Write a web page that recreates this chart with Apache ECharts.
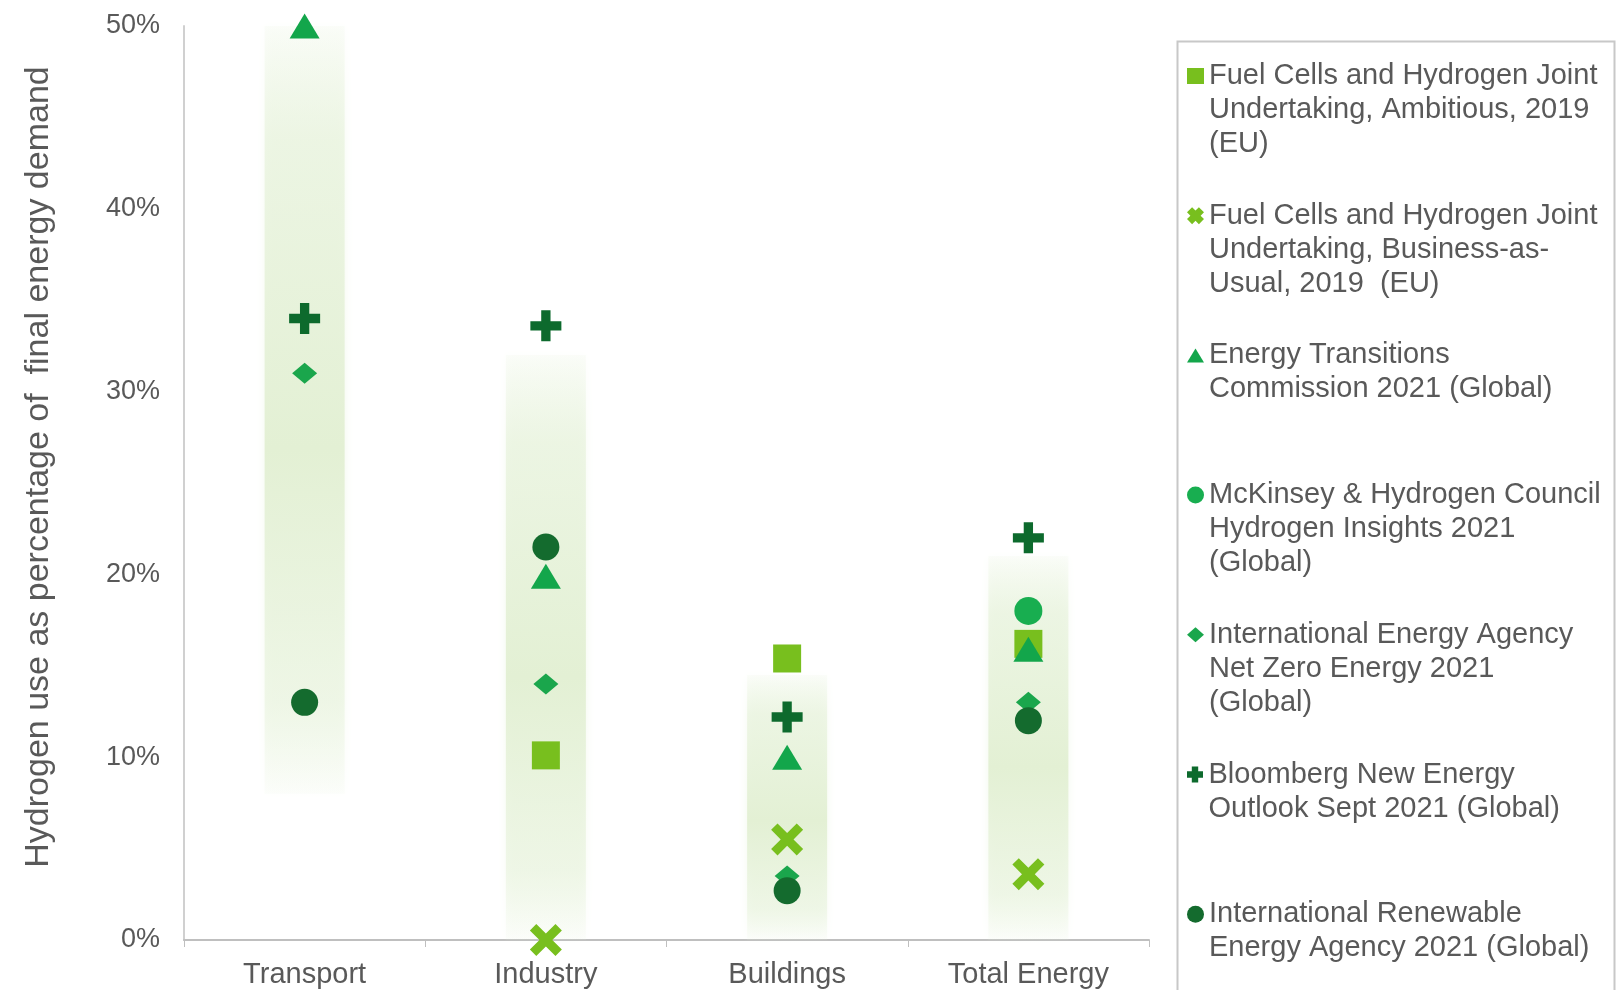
<!DOCTYPE html>
<html>
<head>
<meta charset="utf-8">
<script src="https://cdn.jsdelivr.net/npm/echarts@6/dist/echarts.min.js"></script>
<style>
  html, body { margin: 0; padding: 0; background: #fff; }
  #chart { width: 1616px; height: 990px; }
</style>
</head>
<body>
<div id="chart"></div>
<script>
// 类别
const categories = ["Transport", "Industry", "Buildings", "Total Energy"];
// 背景色带范围
const bandLow = [8, 0, 0, 0];
const bandHigh = [50, 32, 14.5, 21];
// 各来源数值 (%)
const fchAmbitious = [null, 10.1, 15.4, 16.2];
const fchBau = [null, 0, 5.5, 3.6];
const etc2021 = [50, 19.9, 10, 15.9];
const mckinsey = [null, null, null, 18];
const ieaNze = [31, 14, 3.5, 13];
const bnef = [34, 33.6, 12.2, 22];
const irena = [13, 21.5, 2.7, 12];
// 图例文字
const seriesNames = [
  "Fuel Cells and Hydrogen Joint\nUndertaking, Ambitious, 2019\n(EU)",
  "Fuel Cells and Hydrogen Joint\nUndertaking, Business-as-\nUsual, 2019  (EU)",
  "Energy Transitions\nCommission 2021 (Global)",
  "McKinsey & Hydrogen Council\nHydrogen Insights 2021\n(Global)",
  "International Energy Agency\nNet Zero Energy 2021\n(Global)",
  "Bloomberg New Energy\nOutlook Sept 2021 (Global)",
  "International Renewable\nEnergy Agency 2021 (Global)",
];
const yTicks = [0, 10, 20, 30, 40, 50];

const FONT = '"Liberation Sans", Arial, sans-serif';
const TEXT = "#595959";
const LINE_H = 34;

const X_PATH = "path://M2,0 L5,3 L8,0 L10,2 L7,5 L10,8 L8,10 L5,7 L2,10 L0,8 L3,5 L0,2 Z";
const X_ICON = "path://M3,0 L5,2 L7,0 L10,3 L8,5 L10,7 L7,10 L5,8 L3,10 L0,7 L2,5 L0,3 Z";
const PLUS_PATH = "path://M3.5,0 H6.5 V3.5 H10 V6.5 H6.5 V10 H3.5 V6.5 H0 V3.5 H3.5 Z";
const PLUS_ICON = "path://M3,0 H7 V3 H10 V7 H7 V10 H3 V7 H0 V3 H3 Z";

const seriesStyle = [
  { data: fchAmbitious, symbol: "rect", size: 28, color: "#78bf1e", icon: "rect", iconH: 16 },
  { data: fchBau, symbol: X_PATH, size: 32, color: "#78bf1e", icon: X_ICON, iconH: 17 },
  { data: etc2021, symbol: "triangle", size: [30, 25], color: "#13a64b", icon: "triangle", iconH: 14 },
  { data: mckinsey, symbol: "circle", size: 28, color: "#18ae50", icon: "circle", iconH: 17 },
  { data: ieaNze, symbol: "diamond", size: [25, 21], color: "#1aa64c", icon: "diamond", iconH: 15 },
  { data: bnef, symbol: PLUS_PATH, size: 31, color: "#0d6a2d", icon: PLUS_ICON, iconH: 16 },
  { data: irena, symbol: "circle", size: 27, color: "#146b2e", icon: "circle", iconH: 17 },
];

const myChart = echarts.init(document.querySelector("#chart"));

// 背景色带 (堆叠柱)
const bandSeries = [
  {
    type: "bar",
    stack: "band",
    barWidth: 80,
    silent: true,
    itemStyle: { color: "transparent" },
    data: bandLow,
  },
  {
    type: "bar",
    stack: "band",
    barWidth: 80,
    silent: true,
    itemStyle: {
      color: {
        type: "linear",
        x: 0, y: 0, x2: 0, y2: 1,
        colorStops: [
          { offset: 0, color: "rgba(232,243,221,0.15)" },
          { offset: 0.15, color: "rgba(232,243,221,0.7)" },
          { offset: 0.55, color: "rgba(227,240,212,1)" },
          { offset: 0.88, color: "rgba(232,243,221,0.6)" },
          { offset: 1, color: "rgba(232,243,221,0.1)" },
        ],
      },
      shadowBlur: 8,
      shadowColor: "rgba(232,243,221,0.6)",
    },
    data: bandHigh.map((h, i) => h - bandLow[i]),
  },
];

const scatterSeries = seriesStyle.map((s, i) => ({
  name: seriesNames[i],
  type: "scatter",
  symbol: s.symbol,
  symbolSize: s.size,
  itemStyle: { color: s.color, opacity: 1 },
  z: 3,
  data: s.data,
}));

// 每个图例单独定位, 图标对齐首行
const legends = seriesNames.map((name, i) => {
  const n = name.split("\n").length;
  const iconY = 76 + i * 139.7;
  return {
    data: [{ name: name, icon: seriesStyle[i].icon }],
    orient: "vertical",
    left: 1187,
    top: iconY - ((2 * n - 1) * LINE_H) / 2,
    padding: 0,
    itemWidth: 17,
    itemHeight: seriesStyle[i].iconH,
    itemGap: 0,
    selectedMode: false,
    formatter: (nm) => "\n".repeat(n - 1) + nm,
    textStyle: {
      fontFamily: FONT,
      fontSize: 29,
      lineHeight: LINE_H,
      color: TEXT,
    },
  };
});

const option = {
  backgroundColor: "#fff",
  animation: false,
  grid: {
    left: 184,
    right: 467,
    top: 26,
    bottom: 50,
    outerBoundsMode: "none",
  },
  legend: legends,
  xAxis: {
    type: "category",
    data: categories,
    axisLine: { lineStyle: { color: "#bfbfbf", width: 2 } },
    axisTick: { show: true, length: 7, lineStyle: { color: "#bfbfbf", width: 1 } },
    axisLabel: {
      margin: 20,
      fontFamily: FONT,
      fontSize: 29,
      color: TEXT,
    },
  },
  yAxis: {
    type: "value",
    min: yTicks[0],
    max: yTicks[yTicks.length - 1],
    interval: 10,
    name: "Hydrogen use as percentage of  final energy demand",
    nameLocation: "middle",
    nameRotate: 90,
    nameGap: 128,
    nameTextStyle: {
      fontFamily: FONT,
      fontSize: 34,
      color: TEXT,
      padding: [0, 0, 0, 32],
    },
    axisLine: { show: true, lineStyle: { color: "#d0d0d0", width: 2 } },
    axisTick: { show: false },
    splitLine: { show: false },
    axisLabel: {
      margin: 24,
      formatter: "{value}%",
      fontFamily: FONT,
      fontSize: 27,
      color: TEXT,
    },
  },
  graphic: [
    {
      type: "rect",
      left: 1175,
      top: 39,
      shape: { width: 437, height: 1000 },
      style: { fill: "none", stroke: "#c8c8c8", lineWidth: 2 },
      silent: true,
      z: -1,
    },
  ],
  series: [...bandSeries, ...scatterSeries],
};

myChart.setOption(option);
</script>
</body>
</html>
